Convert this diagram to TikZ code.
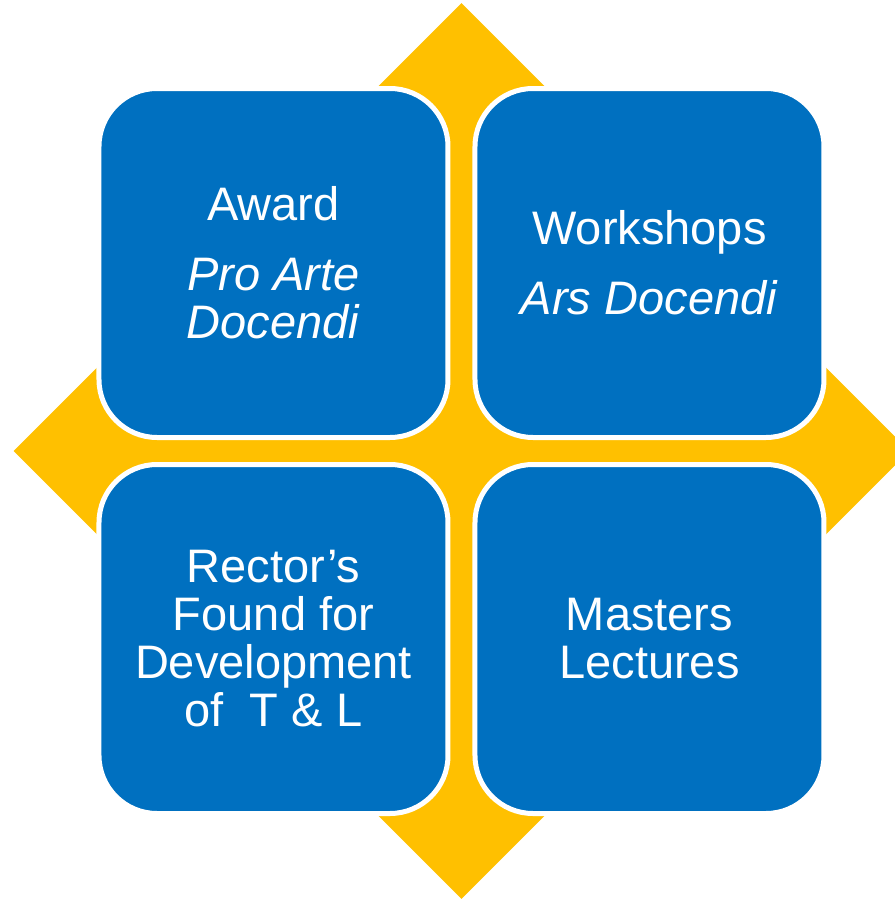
\documentclass[tikz,border=0pt]{standalone}
\usepackage{fontspec}
\setmainfont{Liberation Sans}
\usetikzlibrary{shapes.geometric}

\definecolor{cellblue}{HTML}{0070C0}
\definecolor{crossgold}{HTML}{FFC000}

\begin{document}
\begin{tikzpicture}[x=0.5pt,y=0.5pt,
  cell/.style={rectangle,rounded corners=29pt,draw=white,line width=2.5pt,
    fill=cellblue,minimum size=174.5pt,inner sep=0pt,text=white,
    align=center,font=\fontsize{23.5}{24}\selectfont}]
\clip (-461.5,-450) rectangle (433.5,451);
% yellow rhombus behind the grid
\node[diamond,fill=crossgold,minimum width=448pt,minimum height=448pt,
  inner sep=0pt] (rhomb) at (0,0) {};
% the four cells
\node[cell] (award) at (-188,188)
  {Award\\[11pt]\textit{Pro Arte}\\\textit{Docendi}};
\node[cell] (workshops) at (188,188)
  {Workshops\\[11pt]\textit{Ars Docendi}};
\node[cell] (fund) at (-188,-188)
  {Rector’s\\Found for\\Development\\of~~T \& L};
\node[cell] (masters) at (188,-188)
  {Masters\\Lectures};
\end{tikzpicture}
\end{document}
